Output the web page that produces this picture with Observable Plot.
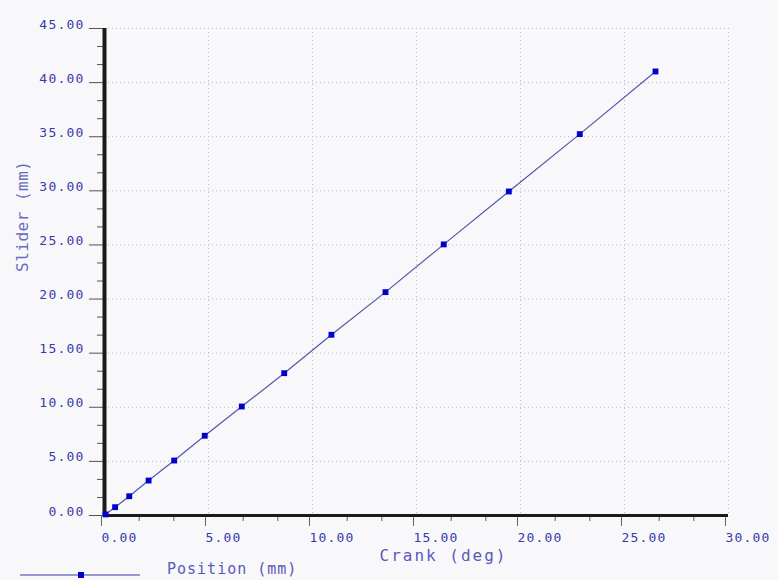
<!DOCTYPE html>
<html><head><meta charset="utf-8">
<script src="https://cdn.jsdelivr.net/npm/d3@7"></script>
<script src="https://cdn.jsdelivr.net/npm/@observablehq/plot@0.6"></script>
<style>
html,body{margin:0;padding:0;background:#f8f8fb;}
#wrap{position:relative;width:778px;height:580px;}
#chart svg text{font-family:"DejaVu Sans Mono",monospace;}
.tk text{letter-spacing:1.2px;}
.xl text{letter-spacing:2px;}
.yl text{letter-spacing:0.5px;}
#legend{position:absolute;left:0;top:558px;}
#legend text{font-family:"DejaVu Sans Mono",monospace;letter-spacing:1px;}
</style></head><body>
<div id="wrap"><div id="chart"></div><div id="legend"></div></div>
<script>
const crank  = [0.05, 0.51, 1.19, 2.12, 3.35, 4.82, 6.60, 8.64, 10.91, 13.51, 16.31, 19.44, 22.85, 26.49];
const slider = [0.10, 0.77, 1.78, 3.23, 5.08, 7.37, 10.07, 13.15, 16.70, 20.64, 25.05, 29.94, 35.24, 41.03];
const xTicks = [0, 5, 10, 15, 20, 25, 30];
const yTicks = [0, 5, 10, 15, 20, 25, 30, 35, 40, 45];
const xLabel = "Crank (deg)";
const yLabel = "Slider (mm)";
const seriesName = "Position (mm)";

const data = crank.map((c, i) => ({crank: c, slider: slider[i]}));
const fmt = d => d.toFixed(2);
const minor = max => d3.range(0, max + 0.001, 5 / 3).filter(v => Math.abs(v / 5 - Math.round(v / 5)) > 1e-6);
const tickColor = "#3a3aa8";
const labelColor = "#5a5ab8";
const gridStyle = {stroke: "#b8b8c4", strokeOpacity: 1, strokeDasharray: "1,3"};

const plot = Plot.plot({
  width: 778, height: 580,
  marginLeft: 104, marginRight: 50, marginTop: 28, marginBottom: 65,
  style: {background: "#f8f8fb", fontFamily: "DejaVu Sans Mono, monospace"},
  x: {domain: [0, 30], label: null},
  y: {domain: [0, 45], label: null},
  marks: [
    Plot.gridX(xTicks, gridStyle),
    Plot.gridY(yTicks, gridStyle),
    Plot.axisX(minor(30), {tickSize: 6, tickFormat: () => "", stroke: "#555", label: null}),
    Plot.axisY(minor(45), {tickSize: 7, tickFormat: () => "", stroke: "#555", label: null}),
    Plot.axisX(xTicks, {tickSize: 11, tickPadding: 6, tickFormat: fmt, textAnchor: "start", dx: -3,
      stroke: "#666", fill: tickColor, fontSize: 13, label: null, className: "tk"}),
    Plot.axisY(yTicks, {tickSize: 15, tickPadding: 5, tickFormat: fmt, lineAnchor: "bottom",
      stroke: "#555", fill: tickColor, fontSize: 13, label: null, className: "tk"}),
    Plot.ruleY([0], {stroke: "#1a1a1a", strokeWidth: 3}),
    Plot.ruleX([0], {stroke: "#1a1a1a", strokeWidth: 4}),
    Plot.line(data, {x: "crank", y: "slider", stroke: "#5555aa", strokeWidth: 1.2}),
    Plot.dot(data, {x: "crank", y: "slider", symbol: "square", r: 3.3, fill: "#0000cc", stroke: "none"}),
    Plot.text([xLabel], {frameAnchor: "bottom", lineAnchor: "bottom", dy: 45, dx: 27,
      fill: labelColor, fontSize: 16, className: "xl"}),
    Plot.text([yLabel], {frameAnchor: "left", rotate: -90, dx: -82,
      fill: "#6a6ac0", fontSize: 16, className: "yl"})
  ]
});
document.getElementById("chart").appendChild(plot);

// legend at the bottom of the chart
const lg = d3.select("#legend").append("svg").attr("width", 778).attr("height", 22).style("display", "block");
lg.append("line").attr("x1", 20).attr("x2", 140).attr("y1", 17).attr("y2", 17).attr("stroke", "#3a3aa8").attr("stroke-width", 1.2);
lg.append("rect").attr("x", 78).attr("y", 14).attr("width", 6).attr("height", 6).attr("fill", "#0000cc");
lg.append("text").attr("x", 167).attr("y", 16).attr("font-size", 15).attr("fill", labelColor).text(seriesName);
</script>
</body></html>
